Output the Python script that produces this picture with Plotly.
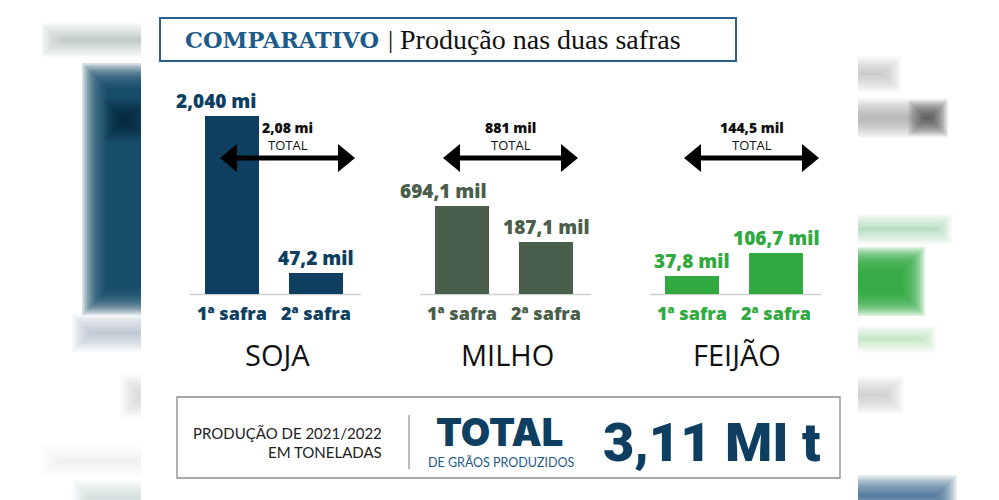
import plotly.graph_objects as go

W, H = 999, 500

# ---------------- data ----------------
culturas = ["SOJA", "MILHO", "FEIJÃO"]
safras = ["1ª safra", "2ª safra"]
rotulos_valor = [["2,040 mi", "47,2 mil"], ["694,1 mil", "187,1 mil"], ["37,8 mil", "106,7 mil"]]
rotulos_total = ["2,08 mi", "881 mil", "144,5 mil"]
# bar heights as drawn in the infographic (stylised, not proportional to the values)
altura_visual = [[178, 21], [88, 52], [18, 41]]
cores = ["#0e3f61", "#4a5e4c", "#30aa40"]
total_geral = "3,11 MI t"

# ---------------- layout constants ----------------
BASE_Y = 294            # pixel row of the bars' baseline
GRUPO_X0, GRUPO_DX = 274, 230
BAR_OFF, BAR_W = 42, 54
SETA_OFF = [13.5, 6.5, 17.5]
SETA_MEIO = 67.5
SETA_Y = 158
ANCORA = [["right", "center"], ["right", "center"], ["center", "center"]]


def px(x):
    return x / W


def py(y):
    return 1 - y / H


fig = go.Figure()
shapes = []
ann = []


# ---- blurred background on the sides ----
def blur(x0, y0, x1, y1, color, spread=14, steps=16, a=0.15):
    for k in range(steps):
        t = k / (steps - 1)
        d = spread * (1 - 2 * t)
        shapes.append(dict(type="rect", xref="paper", yref="paper",
                           x0=px(x0 - d), x1=px(x1 + d), y0=py(y1 + d), y1=py(y0 - d),
                           fillcolor=color, opacity=a, line=dict(width=0), layer="below"))


blur(52, 34, 160, 46, "#a7b4bf", spread=11, a=0.07)
blur(95, 76, 160, 302, "#0e4466", spread=13, a=0.16)
blur(115, 110, 136, 130, "#061826", spread=11, a=0.07)
blur(82, 324, 160, 342, "#aebdca", spread=10, a=0.07)
blur(130, 384, 160, 408, "#cdcdcd", spread=10, a=0.06)
blur(50, 454, 160, 468, "#e6e6e6", spread=10, a=0.06)
blur(82, 490, 160, 505, "#cdd3d8", spread=10, a=0.07)

blur(840, 66, 891, 82, "#b9b9b9", spread=10, a=0.07)
blur(840, 108, 938, 128, "#9a9a9a", spread=10, a=0.07)
blur(918, 110, 938, 126, "#333333", spread=10, a=0.07)
blur(840, 223, 943, 235, "#9bd6a5", spread=9, a=0.07)
blur(840, 259, 913, 304, "#2eaa3f", spread=12, a=0.16)
blur(840, 334, 928, 344, "#a8dcaf", spread=9, a=0.06)
blur(840, 386, 894, 404, "#bdbdbd", spread=10, a=0.06)
blur(840, 486, 946, 505, "#2f6386", spread=11, a=0.1)

# white panel
shapes.append(dict(type="rect", xref="paper", yref="paper", x0=px(141), x1=px(858), y0=0, y1=1,
                   fillcolor="white", line=dict(width=0), layer="below"))

# title box
shapes.append(dict(type="rect", xref="paper", yref="paper", x0=px(160), x1=px(736), y0=py(61), y1=py(18),
                   fillcolor="white", line=dict(color="#2b5f8c", width=2), layer="below"))
ann.append(dict(x=px(183), y=py(40), text="<b>COMPARATIVO</b>", xanchor="left", yanchor="middle",
                font=dict(family="DejaVu Serif", size=22.5, color="#1d5b8a")))
ann.append(dict(x=px(390.5), y=py(40), text="|", xanchor="center", yanchor="middle",
                font=dict(family="Liberation Serif", size=26, color="#111111")))
ann.append(dict(x=px(398), y=py(40), text="Produção nas duas safras", xanchor="left", yanchor="middle",
                font=dict(family="Liberation Serif", size=28, color="#111111")))

# ---------------- bars ----------------
for i, cult in enumerate(culturas):
    cx = GRUPO_X0 + GRUPO_DX * i
    xs = [cx - BAR_OFF, cx + BAR_OFF]
    fig.add_trace(go.Bar(x=xs, y=altura_visual[i], width=BAR_W, marker=dict(color=cores[i], line=dict(width=0)),
                         name=cult, showlegend=False, hoverinfo="skip"))
    # baseline
    shapes.append(dict(type="line", xref="x", yref="paper", x0=cx - 84, x1=cx + 87,
                       y0=py(BASE_Y + 0.5), y1=py(BASE_Y + 0.5), line=dict(color="#cfcfcf", width=1.5),
                       layer="below"))
    for j in range(2):
        anc = ANCORA[i][j]
        xa = xs[j] + (BAR_W / 2 if anc == "right" else 0)
        ann.append(dict(x=xa, y=altura_visual[i][j], xref="x", yref="y", text=rotulos_valor[i][j],
                        xanchor=anc, yanchor="bottom", yshift=0,
                        font=dict(family="Open Sans", size=19, color=cores[i], weight=800)))
        ann.append(dict(x=xs[j], y=py(313), xref="x", yref="paper", text=safras[j],
                        xanchor="center", yanchor="middle",
                        font=dict(family="Open Sans", size=18, color=cores[i], weight=800)))
    ann.append(dict(x=cx + 3, y=py(354), xref="x", yref="paper", text=cult, xanchor="center", yanchor="middle",
                    font=dict(family="Open Sans", size=29, color="#111111")))
    # total arrow
    ax = cx + SETA_OFF[i]
    xl, xr = ax - SETA_MEIO, ax + SETA_MEIO
    hl, hh, th = 17, 14, 2.5
    path = (f"M {px(xl)},{py(SETA_Y)} L {px(xl + hl)},{py(SETA_Y - hh)} L {px(xl + hl)},{py(SETA_Y - th)} "
            f"L {px(xr - hl)},{py(SETA_Y - th)} L {px(xr - hl)},{py(SETA_Y - hh)} L {px(xr)},{py(SETA_Y)} "
            f"L {px(xr - hl)},{py(SETA_Y + hh)} L {px(xr - hl)},{py(SETA_Y + th)} L {px(xl + hl)},{py(SETA_Y + th)} "
            f"L {px(xl + hl)},{py(SETA_Y + hh)} Z")
    shapes.append(dict(type="path", xref="paper", yref="paper", path=path, fillcolor="#000000",
                       line=dict(width=0), layer="above"))
    ann.append(dict(x=px(ax), y=py(127), text=rotulos_total[i], xanchor="center", yanchor="middle",
                    font=dict(family="Open Sans", size=14, color="#111111", weight=800)))
    ann.append(dict(x=px(ax), y=py(145), text="TOTAL", xanchor="center", yanchor="middle",
                    font=dict(family="Open Sans", size=13, color="#111111")))

# ---------------- bottom box ----------------
shapes.append(dict(type="rect", xref="paper", yref="paper", x0=px(177), x1=px(840), y0=py(478), y1=py(397),
                   fillcolor="white", line=dict(color="#8c8c8c", width=1.3), layer="below"))
shapes.append(dict(type="line", xref="paper", yref="paper", x0=px(409), x1=px(409), y0=py(469), y1=py(415),
                   line=dict(color="#777777", width=1), layer="below"))
ann.append(dict(x=px(384), y=py(433), text="PRODUÇÃO DE 2021/2022", xanchor="right", yanchor="middle",
                font=dict(family="Lato", size=15, color="#222222")))
ann.append(dict(x=px(384), y=py(452), text="EM TONELADAS", xanchor="right", yanchor="middle",
                font=dict(family="Lato", size=15, color="#222222")))
ann.append(dict(x=px(499), y=py(432), text="TOTAL", xanchor="center", yanchor="middle",
                font=dict(family="Inter", size=38, color="#0e3f61", weight=900)))
ann.append(dict(x=px(501), y=py(462), text="DE GRÃOS PRODUZIDOS", xanchor="center", yanchor="middle",
                font=dict(family="Lato", size=12.5, color="#1d5b8a")))
ann.append(dict(x=px(712), y=py(442), text=total_geral, xanchor="center", yanchor="middle",
                font=dict(family="Roboto", size=54, color="#0e3f61", weight=900)))

for a in ann:
    a.setdefault("xref", "paper")
    a.setdefault("yref", "paper")
    a["showarrow"] = False

fig.update_layout(
    width=W, height=H, margin=dict(l=0, r=0, t=0, b=0),
    paper_bgcolor="white", plot_bgcolor="rgba(0,0,0,0)",
    xaxis=dict(range=[0, W], visible=False, fixedrange=True),
    yaxis=dict(range=[0, BASE_Y], domain=[1 - BASE_Y / H, 1], visible=False, fixedrange=True),
    shapes=shapes, annotations=ann, bargap=0, showlegend=False,
)

fig.write_html("out.html", config={"displayModeBar": False})
